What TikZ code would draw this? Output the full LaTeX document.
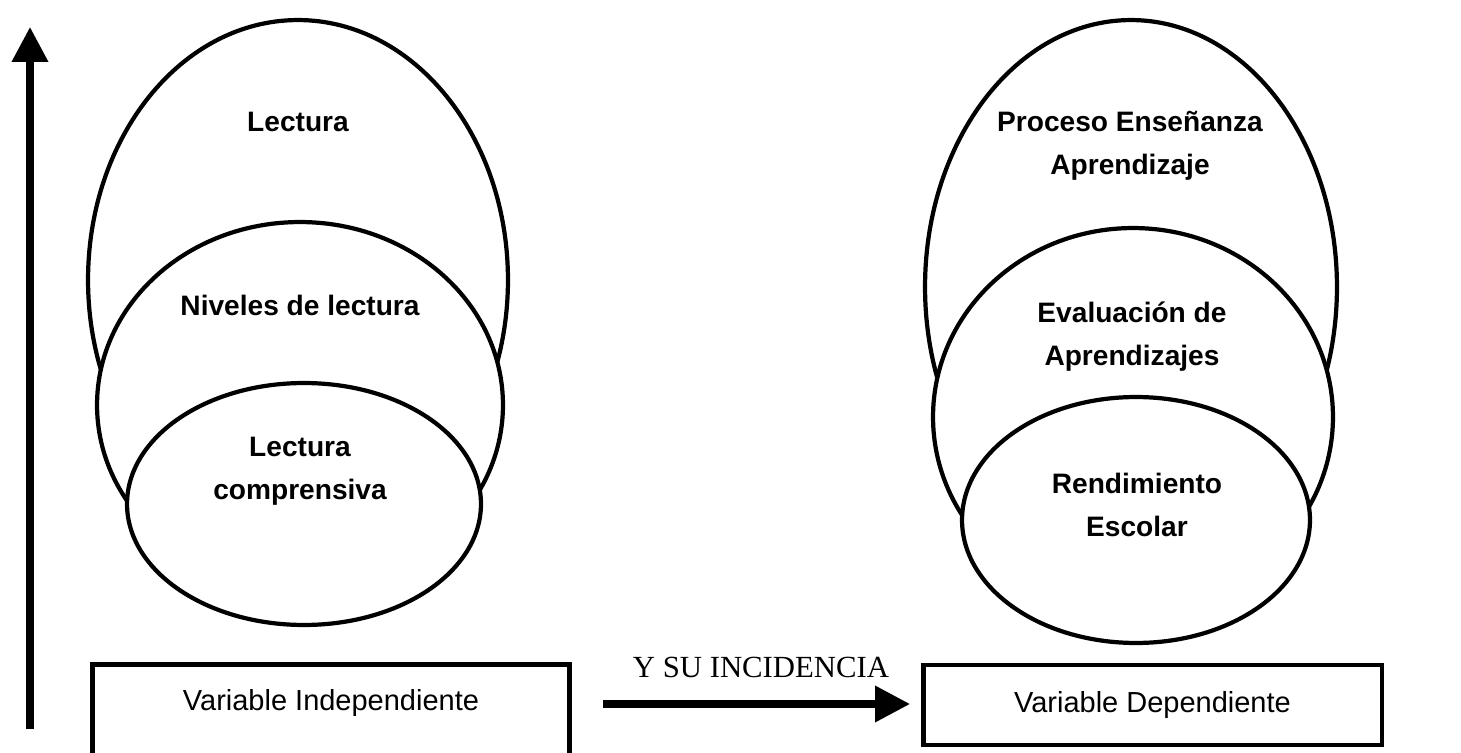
\documentclass[tikz,border=0pt]{standalone}
\usepackage{fontspec}
\setmainfont{Liberation Serif}
\newfontfamily\arialfont{Liberation Sans}
\usetikzlibrary{arrows.meta,shapes.geometric}
\tikzset{
	oval/.style = {draw, ellipse, fill = white, line width = 2.4pt, inner sep = 0pt},
	ovaltext/.style = {align = center, font = \arialfont\bfseries\fontsize{16}{24.5}\selectfont},
	varbox/.style = {draw, rectangle, line width = 2.8pt, inner sep = 0pt},
	vartext/.style = {font = \arialfont\fontsize{16.5}{20}\selectfont},
	bigarrow/.style = {line width = 4pt, -{Triangle[width = 0.7cm, length = 0.7cm]}}
}
\begin{document}
\begin{tikzpicture}[x = 0.02cm, y = -0.02cm]
	\useasboundingbox (0, 0) rectangle (1461, 753);
	\node[oval, minimum width = 8.4cm, minimum height = 10.4cm] (lectura) at (298, 280) {};
	\node[oval, minimum width = 8.12cm, minimum height = 7.32cm] (niveles) at (300, 405) {};
	\node[oval, minimum width = 7.08cm, minimum height = 4.84cm] (comprensiva) at (304, 504) {};
	\node[ovaltext] (lecturatxt) at (298, 122) {Lectura};
	\node[ovaltext] (nivelestxt) at (300, 305) {Niveles de lectura};
	\node[ovaltext] (comprensivatxt) at (300, 471) {Lectura\\comprensiva};

	\node[oval, minimum width = 8.24cm, minimum height = 10.68cm] (proceso) at (1131, 287) {};
	\node[oval, minimum width = 8cm, minimum height = 7.56cm] (evaluacion) at (1133, 417) {};
	\node[oval, minimum width = 6.96cm, minimum height = 4.92cm] (rendimiento) at (1136, 520) {};
	\node[ovaltext] (procesotxt) at (1130, 146) {Proceso Enseñanza\\Aprendizaje};
	\node[ovaltext] (evaluaciontxt) at (1132, 337) {Evaluación de\\Aprendizajes};
	\node[ovaltext] (rendimientotxt) at (1137, 505) {Rendimiento\\Escolar};

	\node[varbox, minimum width = 9.56cm, minimum height = 2.7cm] (indep) at (331, 732) {};
	\node[vartext] (indeptxt) at (331, 703) {Variable Independiente};
	\node[varbox, vartext, minimum width = 9.18cm, minimum height = 1.6cm] (dep) at (1152.5, 705) {Variable Dependiente};

	\coordinate (ejebase) at (30, 729);
	\coordinate (ejetope) at (30, 27);
	\draw[bigarrow] (ejebase) -- (ejetope);
	\coordinate (flechaini) at (603, 704);
	\coordinate (flechafin) at (910, 704);
	\draw[bigarrow] (flechaini) -- (flechafin);
	\node[font = \fontsize{17.5}{20}\selectfont] (incidencia) at (761, 667) {Y SU INCIDENCIA};
\end{tikzpicture}
\end{document}
